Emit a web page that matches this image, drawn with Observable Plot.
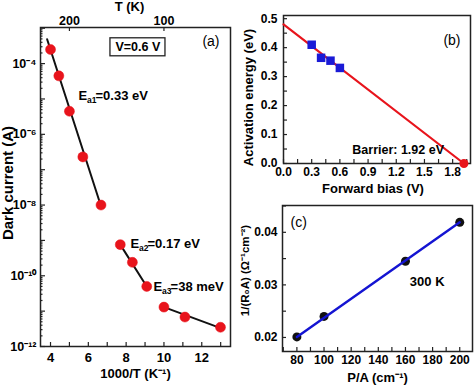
<!DOCTYPE html>
<html><head><meta charset="utf-8">
<script src="https://cdn.jsdelivr.net/npm/d3@7"></script>
<script src="https://cdn.jsdelivr.net/npm/@observablehq/plot@0.6"></script>
<style>
body{margin:0;background:#fff;}
#wrap{position:relative;width:474px;height:386px;overflow:hidden;}
#wrap svg{position:absolute;font-family:"Liberation Sans",Arial,sans-serif;}
</style></head><body><div id="wrap"></div>
<script>
// ---------- panel (a) data ----------
const invT = [4.0, 4.44, 5.0, 5.71, 6.67, 7.69, 8.33, 9.09, 10.0, 11.11, 12.99];
const darkCurrent = [2.5e-4, 4.5e-5, 4.5e-6, 2.3e-7, 1.0e-8, 7.6e-10, 2.4e-10, 5.0e-11, 1.3e-11, 6.8e-12, 3.5e-12];
const fit1X = [3.82, 6.65], fit1Y = [4.9e-4, 1.0e-8];
const fit2X = [7.69, 9.09], fit2Y = [7.6e-10, 5.0e-11];
const fit3X = [10.0, 13.0], fit3Y = [1.3e-11, 3.3e-12];
const aXTicks = [4, 6, 8, 10, 12];
const aYTicks = [1e-4, 1e-6, 1e-8, 1e-10, 1e-12];
const topTTicks = [200, 100];
const eaLabels = ["a1", "a2", "a3"];
const eaValues = ["=0.33 eV", "=0.17 eV", "=38 meV"];
// ---------- panel (b) data ----------
const bias = [0.3, 0.4, 0.5, 0.6];
const actEnergy = [0.41, 0.365, 0.355, 0.33];
const fitBX = [0, 1.92], fitBY = [0.48, 0];
const barrierV = [1.92], barrierE = [0];
const bXTicks = [0, 0.3, 0.6, 0.9, 1.2, 1.5, 1.8];
const bYTicks = [0, 0.1, 0.2, 0.3, 0.4, 0.5];
// ---------- panel (c) data ----------
const perimArea = [80, 100, 160, 200];
const invR0A = [0.0201, 0.0240, 0.0345, 0.0419];
const fitCX = [80, 200], fitCY = [0.0201, 0.0419];
const cXTicks = [80, 100, 120, 140, 160, 180, 200];
const cYTicks = [0.02, 0.03, 0.04];

const RED = "#e8141c", BLUE = "#1a1ad6", BLUE_LINE = "#1414d2";
const FONT = "Liberation Sans, Arial, sans-serif";
const wrap = document.getElementById("wrap");
const zip = (xs, ys) => xs.map((x, i) => ({x, y: ys[i]}));
const sup = s => String(s).replace(/-/g, "\u207B").replace(/\d/g, d => "\u2070\u00B9\u00B2\u00B3\u2074\u2075\u2076\u2077\u2078\u2079"[+d]);

function place(svg, left, top) {
  svg.style.left = left + "px"; svg.style.top = top + "px";
  wrap.appendChild(svg);
}
function inTicksX(ticks, fh, len, top = false) {
  return Plot.tickX(ticks, {x: d => d, stroke: "#222", strokeWidth: 1.2, ...(top ? {insetBottom: fh - len} : {insetTop: fh - len})});
}
function inTicksY(ticks, fw, len) {
  return Plot.tickY(ticks, {y: d => d, stroke: "#222", strokeWidth: 1.2, insetRight: fw - len});
}
const bold = {fontWeight: "bold", fontFamily: FONT};

// ================= (a) =================
{
  const W = 240, H = 386, mL = 40, mR = 10, mT = 27, mB = 40;
  const fw = W - mL - mR, fh = H - mT - mB;
  const pts = zip(invT, darkCurrent);
  const minorY = [];
  for (let e = -12; e < -3; e++) for (let m = 2; m <= 9; m++) minorY.push(m * Math.pow(10, e));
  const decades = d3.range(-12, -2).map(e => Math.pow(10, e));
  const allX = d3.range(4, 14);
  function ea(x, y, sub, rest) {
    return [
      Plot.text(["E"], {x: () => x, y: () => y, text: d => d, textAnchor: "start", fontSize: 13, ...bold}),
      Plot.text([sub], {x: () => x, y: () => y, text: d => d, textAnchor: "start", dx: 8.5, dy: 5, fontSize: 8.5, ...bold}),
      Plot.text([rest], {x: () => x, y: () => y, text: d => d, textAnchor: "start", dx: 17, fontSize: 13, ...bold})
    ];
  }
  const svg = Plot.plot({
    width: W, height: H, marginLeft: mL, marginRight: mR, marginTop: mT, marginBottom: mB,
    style: {fontFamily: FONT, background: "white", overflow: "visible"},
    x: {domain: [3.47, 13.52], axis: null},
    y: {type: "log", domain: [1e-12, 1.05e-3], axis: null},
    marks: [
      Plot.frame({stroke: "#222", strokeWidth: 1.5}),
      inTicksX(allX, fh, 4),
      inTicksX(topTTicks.map(t => 1000 / t), fh, 4, true),
      inTicksY(decades, fw, 5),
      inTicksY(minorY, fw, 2.5),
      Plot.axisX({ticks: aXTicks, tickSize: 0, tickPadding: 6, fontSize: 13, fontWeight: "bold", label: null}),
      Plot.axisX({anchor: "top", ticks: topTTicks.map(t => 1000 / t), tickFormat: d => String(Math.round(1000 / d)), tickSize: 0, tickPadding: 3, fontSize: 12.5, fontWeight: "bold", label: null}),
      Plot.axisY({ticks: aYTicks, tickFormat: d => "10" + sup(Math.round(Math.log10(d))), tickSize: 0, tickPadding: 4, fontSize: 12.5, fontWeight: "bold", label: null}),
      Plot.rect([0], {x1: () => 7.17, x2: () => 10.08, y1: () => 1.61e-4, y2: () => 5.2e-4, fill: "white", stroke: "#222", strokeWidth: 1.3}),
      Plot.text(["V=0.6 V"], {x: () => 8.62, y: () => 2.9e-4, text: d => d, fontSize: 12.5, ...bold}),
      Plot.line(zip(fit1X, fit1Y), {x: "x", y: "y", stroke: "#111", strokeWidth: 2}),
      Plot.line(zip(fit2X, fit2Y), {x: "x", y: "y", stroke: "#111", strokeWidth: 2}),
      Plot.line(zip(fit3X, fit3Y), {x: "x", y: "y", stroke: "#111", strokeWidth: 2}),
      Plot.dot(pts, {x: "x", y: "y", r: 5, fill: RED, stroke: RED, strokeWidth: 0.5}),
      ...ea(5.48, 1.25e-5, eaLabels[0], eaValues[0]),
      ...ea(8.23, 8.1e-10, eaLabels[1], eaValues[1]),
      ...ea(9.45, 5.0e-11, eaLabels[2], eaValues[2]),
      Plot.text(["(a)"], {frameAnchor: "top-right", text: d => d, dx: -11, dy: 14, lineAnchor: "middle", textAnchor: "end", fontSize: 14, fontFamily: FONT}),
      Plot.text(["Dark current (A)"], {frameAnchor: "left", text: d => d, dx: -32, dy: -4, rotate: -90, textAnchor: "middle", lineAnchor: "middle", fontSize: 15, ...bold}),
      Plot.text(["1000/T (K\u207B\u00B9)"], {frameAnchor: "bottom", text: d => d, dy: 27, textAnchor: "middle", lineAnchor: "middle", fontSize: 13, ...bold}),
      Plot.text(["T (K)"], {frameAnchor: "top", text: d => d, dx: -6, dy: -21, textAnchor: "middle", lineAnchor: "middle", fontSize: 13, ...bold})
    ]
  });
  place(svg, 0, 0);
}

// ================= (b) =================
{
  const W = 234, H = 190, mL = 43, mR = 4, mT = 15, mB = 27;
  const fw = W - mL - mR, fh = H - mT - mB;
  const svg = Plot.plot({
    width: W, height: H, marginLeft: mL, marginRight: mR, marginTop: mT, marginBottom: mB,
    style: {fontFamily: FONT, background: "transparent", overflow: "visible"},
    x: {domain: [0, 1.99], axis: null},
    y: {domain: [0, 0.511], axis: null},
    marks: [
      Plot.frame({stroke: "#222", strokeWidth: 1.5}),
      inTicksX(d3.range(0, 1.96, 0.15), fh, 4),
      inTicksY(d3.range(0, 0.51, 0.05), fw, 4),
      Plot.axisX({ticks: bXTicks, tickFormat: d3.format(".1f"), tickSize: 0, tickPadding: 4, fontSize: 12, fontWeight: "bold", label: null}),
      Plot.axisY({ticks: bYTicks, tickFormat: d3.format(".1f"), tickSize: 0, tickPadding: 6, fontSize: 12, fontWeight: "bold", label: null}),
      Plot.line(zip(fitBX, fitBY), {x: "x", y: "y", stroke: RED, strokeWidth: 2.2}),
      Plot.dot(zip(bias, actEnergy), {x: "x", y: "y", symbol: "square", r: 4.8, fill: BLUE}),
      Plot.dot(zip(barrierV, barrierE), {x: "x", y: "y", r: 4.5, fill: RED}),
      Plot.text(["Barrier: 1.92 eV"], {x: () => 1.22, y: () => 0.047, text: d => d, fontSize: 12.5, ...bold}),
      Plot.text(["(b)"], {frameAnchor: "top-right", text: d => d, dx: -10, dy: 25, lineAnchor: "middle", textAnchor: "end", fontSize: 14, fontFamily: FONT}),
      Plot.text(["Activation energy (eV)"], {frameAnchor: "left", text: d => d, dx: -35, dy: 8, rotate: -90, textAnchor: "middle", lineAnchor: "middle", fontSize: 13, ...bold}),
      Plot.text(["Forward bias (V)"], {frameAnchor: "bottom", text: d => d, dx: -4, dy: 25, textAnchor: "middle", lineAnchor: "middle", fontSize: 13, ...bold})
    ]
  });
  place(svg, 240, 0);
}

// ================= (c) =================
{
  const W = 234, H = 196, mL = 42, mR = 2, mT = 15, mB = 35;
  const fw = W - mL - mR, fh = H - mT - mB;
  const svg = Plot.plot({
    width: W, height: H, marginLeft: mL, marginRight: mR, marginTop: mT, marginBottom: mB,
    style: {fontFamily: FONT, background: "transparent", overflow: "visible"},
    x: {domain: [69.4, 209.4], axis: null},
    y: {domain: [0.01733, 0.0451], axis: null},
    marks: [
      Plot.frame({stroke: "#222", strokeWidth: 1.5}),
      inTicksX(d3.range(70, 210, 10), fh, 4),
      inTicksY(d3.range(0.02, 0.0451, 0.005), fw, 4),
      Plot.axisX({ticks: cXTicks, tickSize: 0, tickPadding: 4, fontSize: 12, fontWeight: "bold", label: null}),
      Plot.axisY({ticks: cYTicks, tickFormat: d3.format(".2f"), tickSize: 0, tickPadding: 5, fontSize: 12, fontWeight: "bold", label: null}),
      Plot.dot(zip(perimArea, invR0A), {x: "x", y: "y", r: 4.5, fill: "#111"}),
      Plot.line(zip(fitCX, fitCY), {x: "x", y: "y", stroke: BLUE_LINE, strokeWidth: 2.4}),
      Plot.text(["300 K"], {x: () => 176, y: () => 0.0305, text: d => d, fontSize: 13, ...bold}),
      Plot.text(["(c)"], {frameAnchor: "top-left", text: d => d, dx: 8, dy: 17, lineAnchor: "middle", textAnchor: "start", fontSize: 14, fontFamily: FONT}),
      Plot.text(["1/(R\u2080A) (\u03A9\u207B\u00B9cm\u207B\u00B2)"], {frameAnchor: "left", text: d => d, dx: -37, dy: -8, rotate: -90, textAnchor: "middle", lineAnchor: "middle", fontSize: 11.5, ...bold}),
      Plot.text(["P/A (cm\u207B\u00B9)"], {frameAnchor: "bottom", text: d => d, dy: 26, textAnchor: "middle", lineAnchor: "middle", fontSize: 13, ...bold})
    ]
  });
  place(svg, 240, 190);
}
</script></body></html>
